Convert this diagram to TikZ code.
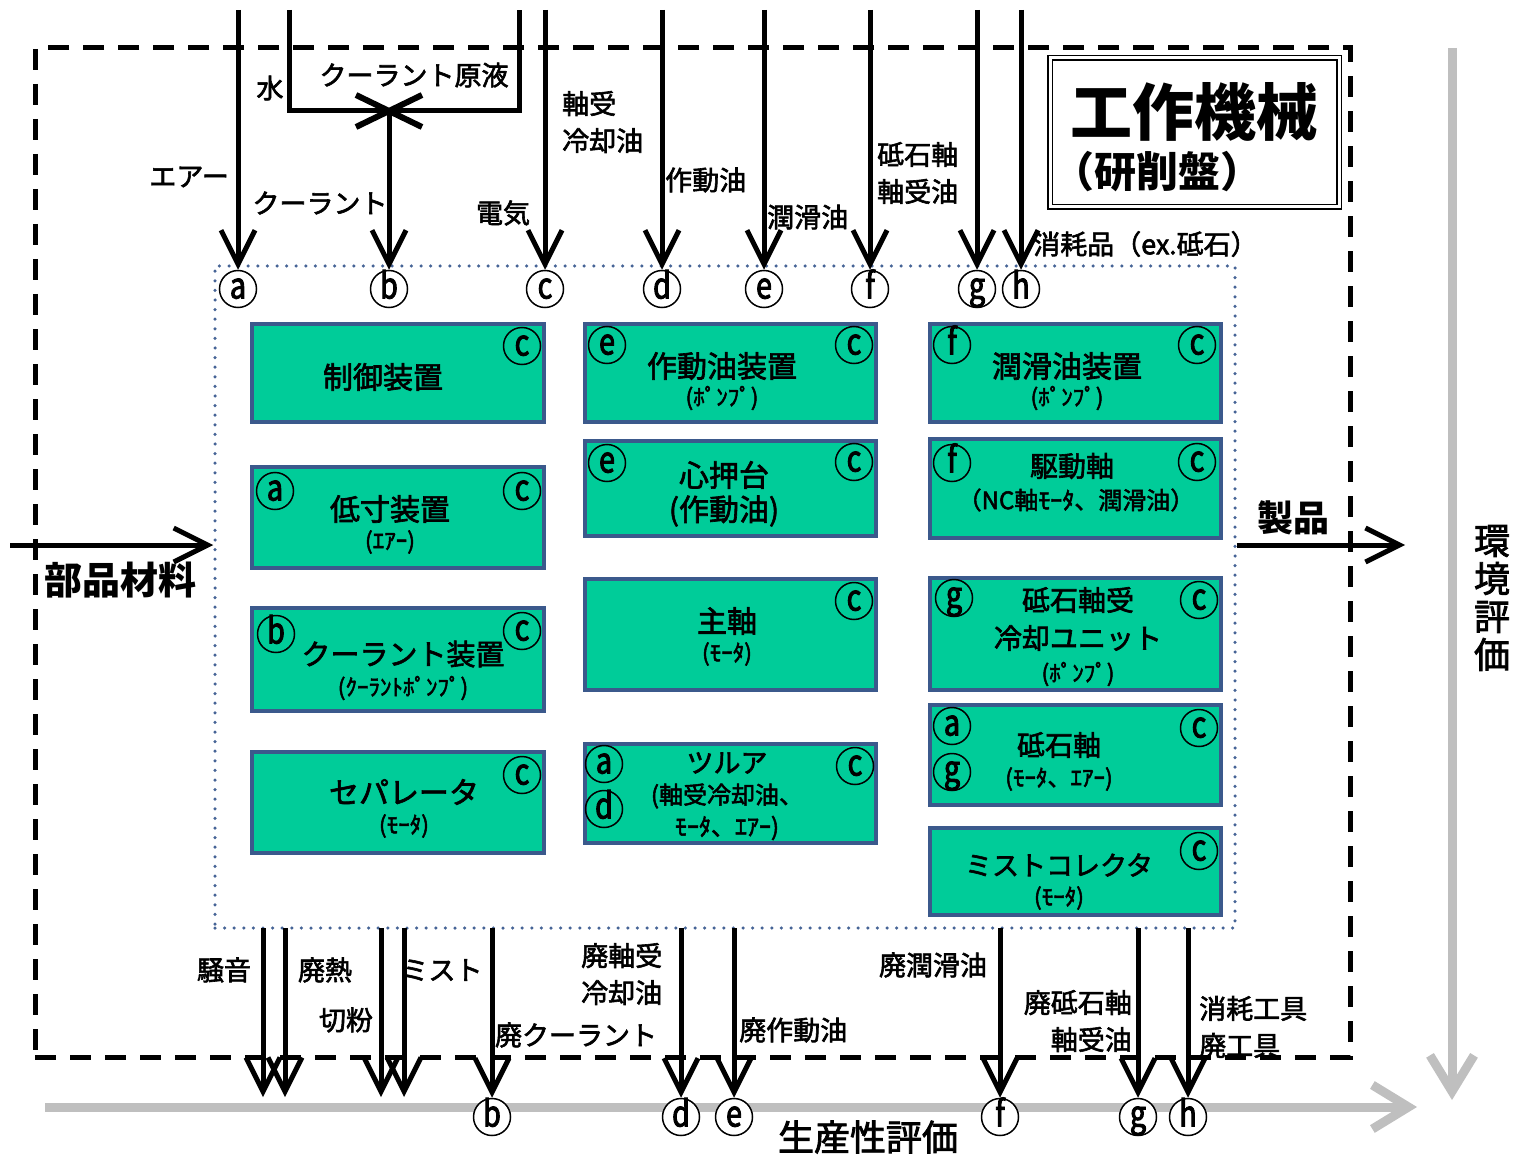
\documentclass[tikz,border=0pt]{standalone}
\usepackage{fontspec}
\setmainfont{Noto Sans CJK JP}[FakeBold=2.2]
\newfontfamily\circfont{Noto Sans CJK JP}[FakeStretch=0.8, FakeBold=2.5]
\newfontfamily\titlefont{Noto Sans CJK JP}
\usetikzlibrary{arrows.meta}
\definecolor{boxgreen}{RGB}{0,204,153}
\definecolor{boxblue}{RGB}{59,89,140}
\definecolor{dotblue}{RGB}{70,100,150}
\definecolor{evalgray}{RGB}{191,191,191}
\newcommand\myfs[1]{\fontsize{#1}{#1}\selectfont}
\begin{document}
\begin{tikzpicture}[x=1pt,y=-1pt,
  every node/.style={inner sep=0pt},
  flow/.style={line width=5pt, -{Straight Barb[length=34pt,width=34pt]}},
  pipe/.style={line width=5pt},
  evalarrow/.style={line width=9pt, draw=evalgray, -{Straight Barb[length=36pt,width=44pt]}},
  unit/.style={draw=boxblue, line width=4.5pt, fill=boxgreen},
  lab/.style={font=\myfs{27}},
  lab2/.style={font=\fontsize{27}{37}\selectfont},
  bt/.style={font=\myfs{30}},
  bs/.style={font=\myfs{23}},
  cl/.style={circle, draw, line width=1.5pt, minimum size=37pt, font=\circfont\myfs{36}, text height=19pt, text depth=0pt},
  clw/.style={cl, fill=white},
]
\useasboundingbox (0,0) rectangle (1514,1155);

% outer dashed frame and process frame
\node[draw, line width=5pt, dash pattern=on 21pt off 14pt, minimum width=1315pt, minimum height=1009pt] (machine) at (692.5,552.5) {};
\node[draw=dotblue, line width=3.5pt, dash pattern=on 0pt off 9.6pt, line cap=round, minimum width=1020pt, minimum height=662pt] (proc) at (725,597) {};

% title
\node[draw, double, double distance=3pt, line width=1.5pt, minimum width=289pt, minimum height=149pt] (title) at (1194.5,132.5) {};
\node[font=\titlefont\bfseries\myfs{62}] (titleA) at (1194,112) {工作機械};
\node[font=\titlefont\bfseries\myfs{42}, anchor=west] (titleB) at (1052,172) {（研削盤）};

% evaluation arrows
\coordinate (ev0) at (1452,48);
\coordinate (ev1) at (1452,1100);
\coordinate (ph0) at (45,1107);
\coordinate (ph1) at (1417,1107);
\draw[evalarrow] (ev0) -- (ev1);
\draw[evalarrow] (ph0) -- (ph1);
\node[font=\fontsize{36}{38}\selectfont, align=center] (envlab) at (1492,598) {環\\境\\評\\価};
\node[font=\myfs{36}] (prodlab) at (868,1137) {生産性評価};

% top supply
\coordinate (tA) at (238,10);
\coordinate (tW) at (289,10);
\coordinate (tW2) at (289,111);
\coordinate (tK) at (519,10);
\coordinate (tK2) at (519,111);
\coordinate (mix) at (389,111);
\coordinate (tC) at (545,10);
\coordinate (tD) at (662,10);
\coordinate (tE) at (764,10);
\coordinate (tF) at (870,10);
\coordinate (tG) at (977,10);
\coordinate (tH) at (1021,10);

\node[clw] (ca) at (238,289) {a};
\node[clw] (cb) at (389,289) {b};
\node[clw] (cc) at (545,289) {c};
\node[clw] (cd) at (662,289) {d};
\node[clw] (ce) at (764,289) {e};
\node[clw] (cf) at (870,289) {f};
\node[clw] (cg) at (977,289) {g};
\node[clw] (ch) at (1021,289) {h};

\draw[pipe] (tW) -- (tW2) -- (tK2) -- (tK);
\draw[line width=6pt] ([shift={(-33,-16)}]mix) -- ([shift={(33,16)}]mix);
\draw[line width=6pt] ([shift={(-33,16)}]mix) -- ([shift={(33,-16)}]mix);
\draw[flow] (tA) -- (ca.north);
\draw[flow] (mix) -- (cb.north);
\draw[flow] (tC) -- (cc.north);
\draw[flow] (tD) -- (cd.north);
\draw[flow] (tE) -- (ce.north);
\draw[flow] (tF) -- (cf.north);
\draw[flow] (tG) -- (cg.north);
\draw[flow] (tH) -- (ch.north);

\node[lab] (lw) at (270,88) {水};
\node[lab] (lk) at (414,75) {クーラント原液};
\node[lab, anchor=east] (lair) at (229,177) {エアー};
\node[lab] (lcool) at (320,203) {クーラント};
\node[lab] (lel) at (503,213) {電気};
\node[lab2, anchor=west, align=left] (lbc) at (562,122) {軸受\\冷却油};
\node[lab, anchor=west] (lhyd) at (665,180) {作動油};
\node[lab, anchor=west] (llub) at (767,217) {潤滑油};
\node[lab2, anchor=west, align=left] (lwb) at (877,173) {砥石軸\\軸受油};
\node[lab, anchor=west] (lcons) at (1033,244) {消耗品（ex.砥石）};

% material in / product out
\coordinate (matin) at (10,545);
\coordinate (prodout) at (1405,545);
\draw[flow] (matin) -- (proc.west |- matin);
\draw[flow] (proc.east |- prodout) -- (prodout);
\node[font=\titlefont\bfseries\myfs{38}] (lmat) at (120,580) {部品材料};
\node[font=\titlefont\bfseries\myfs{36}] (lprod) at (1293,518) {製品};

% left column units
\node[unit, minimum width=292pt, minimum height=98pt] (ctl) at (398,373) {};
\node[bt] at (383,377) {制御装置};
\node[cl] at (522,346) {c};

\node[unit, minimum width=292pt, minimum height=101pt] (gauge) at (398,517.5) {};
\node[bt] at (390,509) {低寸装置};
\node[bs] at (390,542) {(ｴｱｰ)};
\node[cl] at (275,491) {a};
\node[cl] at (522,491) {c};

\node[unit, minimum width=292pt, minimum height=103pt] (coolu) at (398,659.5) {};
\node[font=\myfs{29}] at (403,654) {クーラント装置};
\node[bs] at (403,688) {(ｸｰﾗﾝﾄﾎﾟﾝﾌﾟ)};
\node[cl] at (276,634) {b};
\node[cl] at (522,631) {c};

\node[unit, minimum width=292pt, minimum height=101pt] (sepu) at (398,802.5) {};
\node[bt] at (404,792) {セパレータ};
\node[bs] at (404,826) {(ﾓｰﾀ)};
\node[cl] at (522,775) {c};

% middle column
\node[unit, minimum width=291pt, minimum height=98pt] (hydu) at (730.5,373) {};
\node[bt] at (722,366) {作動油装置};
\node[bs] at (722,398) {(ﾎﾟﾝﾌﾟ)};
\node[cl] at (607,345) {e};
\node[cl] at (854,345) {c};

\node[unit, minimum width=291pt, minimum height=95pt] (tailu) at (730.5,488.5) {};
\node[bt] at (724,475) {心押台};
\node[bt] at (724,511) {(作動油)};
\node[cl] at (607,463) {e};
\node[cl] at (854,462) {c};

\node[unit, minimum width=291pt, minimum height=111pt] (spinu) at (730.5,634.5) {};
\node[bt] at (727,621) {主軸};
\node[bs] at (727,654) {(ﾓｰﾀ)};
\node[cl] at (854,601) {c};

\node[unit, minimum width=291pt, minimum height=99pt] (dressu) at (730.5,793.5) {};
\node[font=\myfs{27}] at (727,763) {ツルア};
\node[font=\myfs{24}] at (727,796) {(軸受冷却油、};
\node[font=\myfs{24}] at (727,828) {ﾓｰﾀ、ｴｱｰ)};
\node[cl] at (604,764) {a};
\node[cl] at (604,809) {d};
\node[cl] at (855,766) {c};

% right column
\node[unit, minimum width=291pt, minimum height=98pt] (lubu) at (1075.5,373) {};
\node[bt] at (1067,366) {潤滑油装置};
\node[bs] at (1067,398) {(ﾎﾟﾝﾌﾟ)};
\node[cl] at (952,345) {f};
\node[cl] at (1197,345) {c};

\node[unit, minimum width=291pt, minimum height=99pt] (driveu) at (1075.5,488.5) {};
\node[font=\myfs{28}] at (1072,466) {駆動軸};
\node[font=\myfs{24}] at (1076,500) {（NC軸ﾓｰﾀ、潤滑油）};
\node[cl] at (952,463) {f};
\node[cl] at (1197,462) {c};

\node[unit, minimum width=291pt, minimum height=112pt] (wcoolu) at (1075.5,634) {};
\node[font=\myfs{28}] at (1078,600) {砥石軸受};
\node[font=\myfs{28}] at (1078,638) {冷却ユニット};
\node[bs] at (1078,674) {(ﾎﾟﾝﾌﾟ)};
\node[cl] at (954,598) {g};
\node[cl] at (1199,600) {c};

\node[unit, minimum width=291pt, minimum height=100pt] (wheelu) at (1075.5,755) {};
\node[font=\myfs{28}] at (1059,745) {砥石軸};
\node[bs] at (1059,779) {(ﾓｰﾀ、ｴｱｰ)};
\node[cl] at (952,726) {a};
\node[cl] at (952,772) {g};
\node[cl] at (1199,728) {c};

\node[unit, minimum width=291pt, minimum height=87pt] (mistu) at (1075.5,871.5) {};
\node[font=\myfs{27}] at (1059,865) {ミストコレクタ};
\node[bs] at (1059,898) {(ﾓｰﾀ)};
\node[cl] at (1199,851) {c};

% outputs
\coordinate (sN) at (263,928);
\coordinate (sH) at (285,928);
\coordinate (sC) at (381,928);
\coordinate (sM) at (404,928);
\coordinate (sB) at (492,928);
\coordinate (sD) at (681,928);
\coordinate (sE) at (734,928);
\coordinate (sF) at (1000,928);
\coordinate (sG) at (1138,928);
\coordinate (sHh) at (1188,928);
\coordinate (eN) at (263,1097);
\coordinate (eH) at (285,1097);
\coordinate (eC) at (381,1097);
\coordinate (eM) at (404,1097);
\node[clw] (ob) at (492,1117) {b};
\node[clw] (od) at (681,1117) {d};
\node[clw] (oe) at (734,1117) {e};
\node[clw] (of) at (1000,1117) {f};
\node[clw] (og) at (1138,1117) {g};
\node[clw] (oh) at (1188,1117) {h};
\draw[flow] (sN) -- (eN);
\draw[flow] (sH) -- (eH);
\draw[flow] (sC) -- (eC);
\draw[flow] (sM) -- (eM);
\draw[flow] (sB) -- (ob.north);
\draw[flow] (sD) -- (od.north);
\draw[flow] (sE) -- (oe.north);
\draw[flow] (sF) -- (of.north);
\draw[flow] (sG) -- (og.north);
\draw[flow] (sHh) -- (oh.north);

\node[lab] at (224,970) {騒音};
\node[lab] at (325,970) {廃熱};
\node[lab] at (346,1020) {切粉};
\node[lab] at (442,970) {ミスト};
\node[lab] at (576,1035) {廃クーラント};
\node[lab2, anchor=west, align=left] at (581,974) {廃軸受\\冷却油};
\node[lab, anchor=west] at (739,1030) {廃作動油};
\node[lab] at (933,965) {廃潤滑油};
\node[lab2, anchor=east, align=right] at (1132,1021) {廃砥石軸\\軸受油};
\node[lab2, anchor=west, align=left] at (1199,1027) {消耗工具\\廃工具};
\end{tikzpicture}
\end{document}
